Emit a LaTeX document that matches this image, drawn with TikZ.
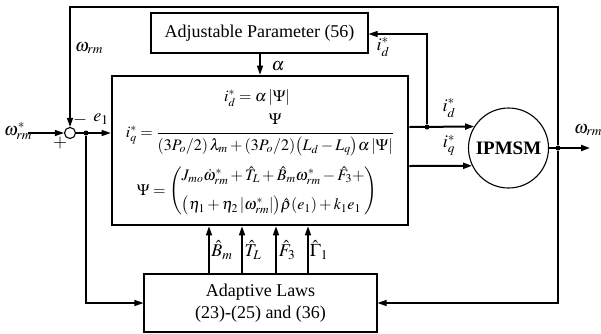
\documentclass[tikz,border=0pt]{standalone}
\usepackage{amsmath}
\usepackage{mathptmx}
\usepackage{fontspec}
\setmainfont{Liberation Serif}
\usetikzlibrary{arrows.meta,calc}
\begin{document}
\begin{tikzpicture}[x=1pt,y=-1pt,
  thin/.style={line width=1.1pt},
  thick2/.style={line width=2pt},
  tip/.style={-{Triangle[length=9pt,width=6pt]}},
  blk/.style={draw,line width=1.1pt,rectangle,inner sep=0pt,font=\fontsize{18}{21}\selectfont},
  lbl/.style={inner sep=0pt,font=\fontsize{18}{21}\selectfont},
  eqn/.style={inner sep=0pt,font=\fontsize{16}{19}\selectfont},
  dotn/.style={circle,fill,inner sep=0pt,minimum size=5pt}]
\useasboundingbox (0,0) rectangle (601,333);
% blocks
\node[blk,minimum width=217pt,minimum height=40pt] (adj) at (259.5,33) {Adjustable Parameter (56)};
\node[draw,line width=2.6pt,rectangle,minimum width=296pt,minimum height=149pt,inner sep=0pt] (main) at (260,150.5) {};
\node[blk,minimum width=233pt,minimum height=58pt,align=center] (adl) at (260.5,303) {Adaptive Laws\\[1pt](23)-(25) and (36)};
\node[draw,circle,line width=1.1pt,minimum size=80pt,inner sep=0pt,font=\fontsize{19}{22}\selectfont\bfseries] (ipm) at (508.5,148) {IPMSM};
\node[draw,circle,line width=1.1pt,minimum size=11pt,inner sep=0pt] (sum) at (70,133) {};
% equations
\node[eqn] (eq1) at (257,98) {$i_d^*=\alpha\left|\Psi\right|$};
\node[eqn] (eq2) at (260,135) {$i_q^*=\dfrac{\Psi\rule[-6pt]{0pt}{6pt}}{\rule{0pt}{15pt}(3P_o/2)\,\lambda_m+(3P_o/2)\bigl(L_d-L_q\bigr)\alpha\left|\Psi\right|}$};
\node[eqn] (eq3) at (257,191) {$\Psi=\left(\begin{array}{@{}l@{}}J_{mo}\dot{\omega}_{rm}^*+\hat{T}_L+\hat{B}_m\omega_{rm}^*-\hat{F}_3+\\[10pt] \bigl(\eta_1+\eta_2\left|\omega_{rm}^*\right|\bigr)\hat{\rho}(e_1)+k_1e_1\end{array}\right)$};
% points
\coordinate (win) at (28,133);
\node[dotn] (d1) at (86,133) {};
\node[dotn] (d2) at (427,127) {};
\node[dotn] (d3) at (558,148) {};
\coordinate (wout) at (590,148);
% connectors
\draw[thin,tip] (win) -- (sum.west);
\draw[thin,tip] (d3) -- (558,7) -- (sum.north |- 0,7) -- (sum.north);
\draw[thin,tip] (sum.east) -- (main.west |- sum);
\draw[thin,tip] (d1) -- (d1 |- adl.west) -- (adl.west);
\draw[thin,tip] (adj.south -| 260,0) -- (main.north -| 260,0);
\draw[thick2,tip] (main.east |- d2) -- (ipm.148.3);
\draw[thick2,tip] (main.east |- 0,166) -- (ipm.206.7);
\draw[thin,tip] (d2) -- (d2 |- 0,34) -- (adj.east |- 0,34);
\draw[thick2,tip] (ipm.east) -- (wout);
\draw[thin,tip] (d3) -- (d3 |- adl.east) -- (adl.east);
\foreach \xx in {209,242,276,308}
  \draw[line width=1.5pt,tip] (adl.north -| \xx,0) -- (main.south -| \xx,0);
% labels
\node[lbl] (lwin) at (18,131) {$\omega_{rm}^*$};
\node[lbl] (lwfb) at (89,48) {$\omega_{rm}$};
\node[lbl] (lminus) at (80,120) {$-$};
\node[lbl] (lplus) at (60,143) {$+$};
\node[lbl] (le1) at (101,119) {$e_1$};
\node[lbl] (lalpha) at (278,66) {$\alpha$};
\node[lbl] (lid1) at (383,47) {$i_d^*$};
\node[lbl] (lid2) at (449,108) {$i_d^*$};
\node[lbl] (liq) at (449,145) {$i_q^*$};
\node[lbl] (lwout) at (588,130) {$\omega_{rm}$};
\node[lbl] (lB) at (222,250) {$\hat{B}_m$};
\node[lbl] (lT) at (253,250) {$\hat{T}_L$};
\node[lbl] (lF) at (287,250) {$\hat{F}_3$};
\node[lbl] (lG) at (319,250) {$\hat{\Gamma}_1$};
\end{tikzpicture}
\end{document}
